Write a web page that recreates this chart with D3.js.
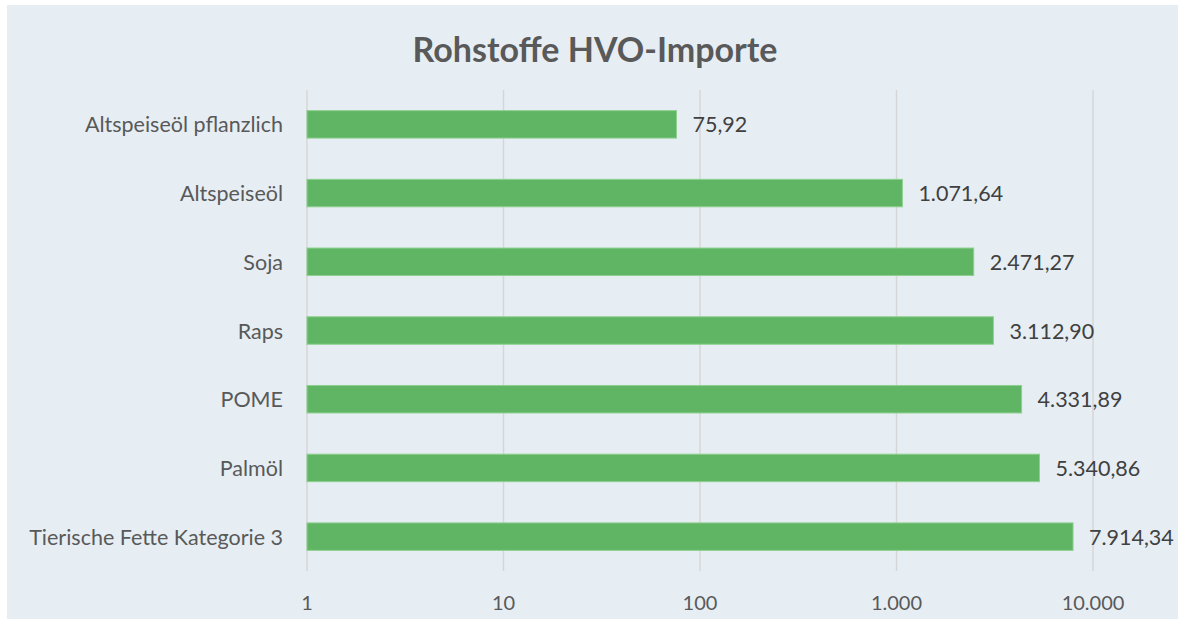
<!DOCTYPE html>
<html>
<head>
<meta charset="utf-8">
<script src="https://cdn.jsdelivr.net/npm/d3@7"></script>
<style>
body { margin: 0; background: #fff; }
svg { display: block; font-family: Lato, "Open Sans", sans-serif; }
</style>
</head>
<body>
<svg id="chart" width="1180" height="619"></svg>
<script>
var categories = ["Altspeiseöl pflanzlich", "Altspeiseöl", "Soja", "Raps", "POME", "Palmöl", "Tierische Fette Kategorie 3"];
var values = [75.92, 1071.64, 2471.27, 3112.90, 4331.89, 5340.86, 7914.34];
var tickValues = [1, 10, 100, 1000, 10000];

var svg = d3.select("#chart");
var margin = {left: 307, right: 1093, top: 90, bottom: 571};

// chart background
svg.append("rect").attr("x", 7).attr("y", 5).attr("width", 1171).attr("height", 614).attr("fill", "#e6eef4");

svg.append("text").attr("x", 595).attr("y", 62).attr("text-anchor", "middle")
	.attr("font-size", 34).attr("font-weight", "bold").attr("fill", "#595959")
	.text("Rohstoffe HVO-Importe");

var x = d3.scaleLog().domain([1, 10000]).range([margin.left, margin.right]);
var y = d3.scaleBand().domain(categories).range([margin.top, margin.bottom]).paddingInner(0.6).paddingOuter(0.3);

var fmt = function(v){
	return v.toLocaleString("de-DE", {minimumFractionDigits: 2, maximumFractionDigits: 2});
};
var fmtTick = function(v){
	return v.toLocaleString("de-DE");
};

// gridlines
svg.append("g").selectAll("line").data(tickValues).enter().append("line")
	.attr("x1", function(d){ return x(d); }).attr("x2", function(d){ return x(d); })
	.attr("y1", margin.top).attr("y2", margin.bottom)
	.attr("stroke", "#d6d6d6").attr("stroke-width", 1.5);

// axis labels
svg.append("g").selectAll("text").data(tickValues).enter().append("text")
	.attr("x", function(d){ return x(d); }).attr("y", 610)
	.attr("text-anchor", "middle").attr("font-size", 20).attr("fill", "#595959")
	.text(fmtTick);

// bars
svg.append("g").selectAll("rect").data(values).enter().append("rect")
	.attr("x", x(1)).attr("y", function(d, i){ return y(categories[i]); })
	.attr("width", function(d){ return x(d) - x(1); })
	.attr("height", y.bandwidth())
	.attr("fill", "#5fb564").attr("stroke", "#8fd08f").attr("stroke-width", 1);

// value labels
svg.append("g").selectAll("text").data(values).enter().append("text")
	.attr("x", function(d){ return x(d) + 16; })
	.attr("y", function(d, i){ return y(categories[i]) + y.bandwidth() / 2 + 8; })
	.attr("font-size", 21.5).attr("fill", "#404040")
	.text(fmt);

// category labels
svg.append("g").selectAll("text").data(categories).enter().append("text")
	.attr("x", 283).attr("y", function(d){ return y(d) + y.bandwidth() / 2 + 8; })
	.attr("text-anchor", "end").attr("font-size", 21.5).attr("fill", "#595959")
	.text(function(d){ return d; });
</script>
</body>
</html>
